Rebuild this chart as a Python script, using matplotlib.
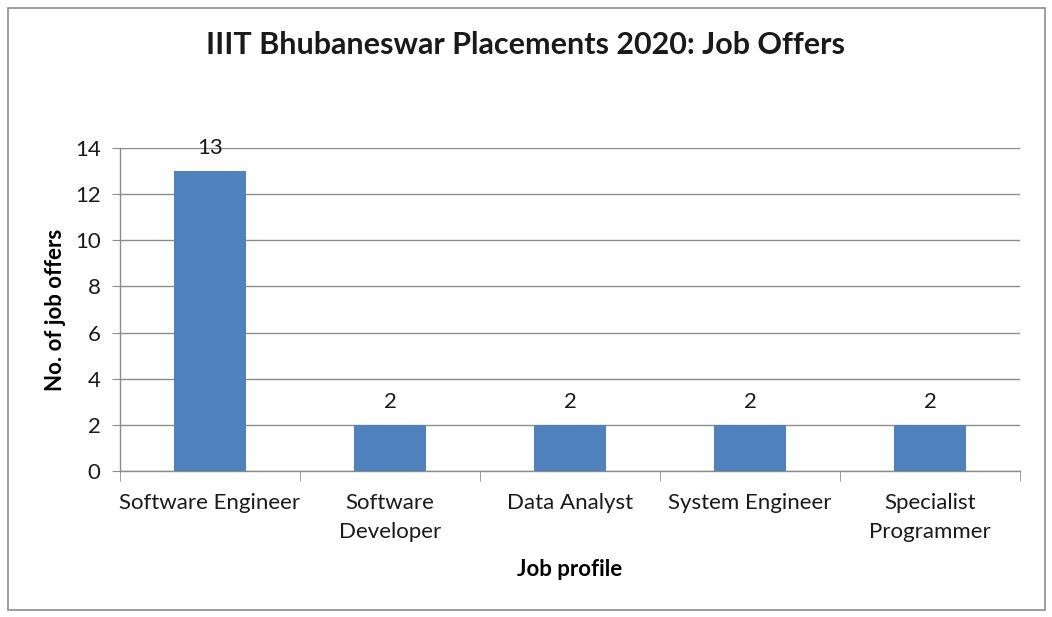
import matplotlib
matplotlib.use("Agg")
import matplotlib.pyplot as plt
from matplotlib.patches import Rectangle
from matplotlib.ticker import FixedLocator

categories = ["Software Engineer", "Software\nDeveloper", "Data Analyst",
              "System Engineer", "Specialist\nProgrammer"]
offers = [13, 2, 2, 2, 2]
yticks = [0, 2, 4, 6, 8, 10, 12, 14]

plt.rcParams['font.family'] = ['Lato', 'DejaVu Sans']

fig = plt.figure(figsize=(10.52, 6.17), dpi=100)
fig.patch.set_facecolor('white')
fig.add_artist(Rectangle((8/1052, 1-610/617), 1037/1052, 602/617,
                         transform=fig.transFigure, fill=False,
                         edgecolor='#8c8c8c', linewidth=1.2))

ax = fig.add_axes([120/1052, 1-471/617, 900/1052, 323/617])
x = list(range(len(categories)))
bars = ax.bar(x, offers, width=0.4, color='#4F81BD', zorder=3)
for xi, v in zip(x, offers):
    ax.annotate(str(v), (xi, v), xytext=(0, 9.5), textcoords='offset points',
                ha='center', va='bottom', fontsize=16, color='#1a1a1a')

ax.set_xlim(-0.5, len(categories) - 0.5)
ax.set_ylim(0, 14)
ax.set_yticks(yticks)
ax.set_xticks(x)
ax.set_xticklabels(categories, fontsize=16, linespacing=1.6, color='#1a1a1a')
ax.xaxis.set_minor_locator(FixedLocator([i - 0.5 for i in range(len(categories) + 1)]))
ax.tick_params(axis='x', which='major', length=0, pad=15.5)
ax.tick_params(axis='x', which='minor', length=7, color='#8c8c8c', direction='out')
ax.tick_params(axis='y', length=6, color='#8c8c8c', labelsize=16, labelcolor='#1a1a1a', pad=8)
ax.grid(axis='y', color='#8c8c8c', linewidth=1, zorder=0)
for s in ['top', 'right']:
    ax.spines[s].set_visible(False)
for s in ['left', 'bottom']:
    ax.spines[s].set_color('#8c8c8c')
    ax.spines[s].set_linewidth(1)

ax.set_ylabel("No. of job offers", fontsize=16, fontweight='bold', labelpad=6)
ax.set_xlabel("Job profile", fontsize=16, fontweight='bold', labelpad=12)

fig.text(526/1052, 1-45/617, "IIIT Bhubaneswar Placements 2020: Job Offers",
         ha='center', va='center', fontsize=22, fontweight='bold', color='#1a1a1a')

fig.savefig("out.png", dpi=100)
